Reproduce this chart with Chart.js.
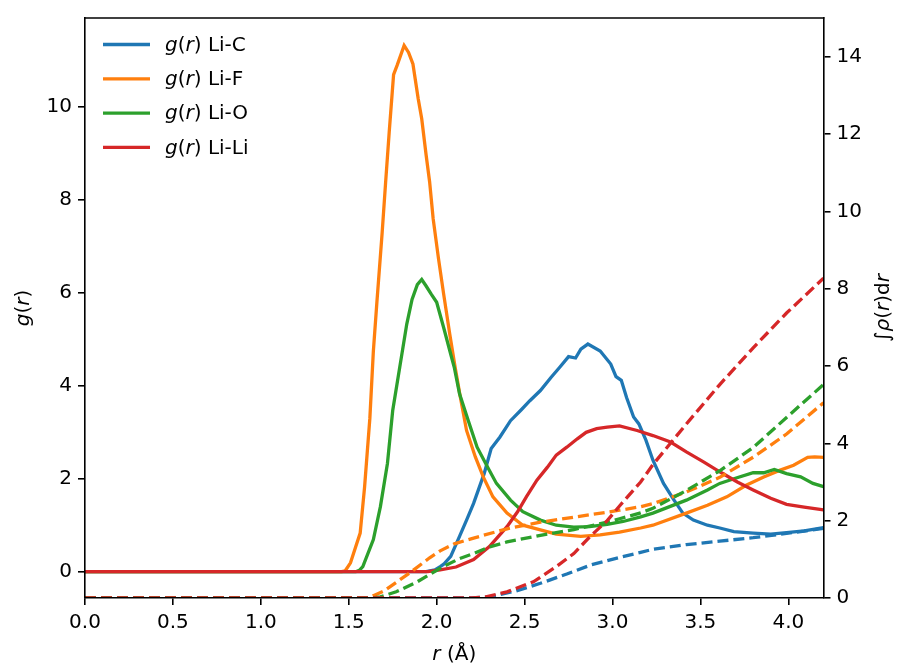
<!DOCTYPE html>
<html>
<head>
<meta charset="utf-8">
<script src="https://cdn.jsdelivr.net/npm/chart.js@4.4.1/dist/chart.umd.min.js"></script>
<style>
  body { margin: 0; background: #fff; }
</style>
</head>
<body>
<canvas id="rdfChart" width="906" height="669"></canvas>
<script>
// [r, g(r)]
const liC_g = [[0,0],[1.94,0],[1.99,0.04],[2.02,0.11],[2.04,0.16],[2.08,0.33],[2.13,0.76],[2.17,1.11],[2.21,1.47],[2.27,2.11],[2.31,2.65],[2.36,2.9],[2.42,3.25],[2.48,3.48],[2.53,3.68],[2.59,3.9],[2.65,4.18],[2.70,4.4],[2.75,4.63],[2.79,4.6],[2.82,4.79],[2.86,4.9],[2.93,4.75],[2.99,4.47],[3.02,4.2],[3.05,4.12],[3.08,3.75],[3.12,3.33],[3.15,3.18],[3.19,2.83],[3.23,2.4],[3.29,1.9],[3.35,1.54],[3.40,1.26],[3.46,1.11],[3.54,1.0],[3.61,0.94],[3.69,0.86],[3.80,0.83],[3.90,0.81],[3.99,0.84],[4.09,0.88],[4.2,0.95]];
const liF_g = [[0,0],[1.46,0],[1.48,0.02],[1.51,0.19],[1.54,0.54],[1.565,0.83],[1.59,1.82],[1.62,3.3],[1.64,4.75],[1.66,5.8],[1.69,7.3],[1.71,8.4],[1.73,9.46],[1.755,10.7],[1.775,10.9],[1.815,11.33],[1.84,11.18],[1.865,10.93],[1.895,10.18],[1.915,9.75],[1.94,8.97],[1.96,8.39],[1.98,7.6],[2.01,6.75],[2.04,5.97],[2.075,5.1],[2.105,4.4],[2.135,3.75],[2.17,3.04],[2.22,2.47],[2.265,2.04],[2.32,1.61],[2.40,1.26],[2.49,1.0],[2.59,0.9],[2.68,0.81],[2.82,0.76],[2.93,0.79],[3.04,0.85],[3.16,0.94],[3.23,1.0],[3.42,1.26],[3.54,1.43],[3.65,1.61],[3.76,1.86],[3.86,2.04],[3.95,2.18],[4.03,2.29],[4.11,2.46],[4.15,2.47],[4.2,2.46]];
const liO_g = [[0,0],[1.54,0],[1.56,0.03],[1.58,0.11],[1.64,0.69],[1.68,1.4],[1.72,2.33],[1.75,3.47],[1.79,4.4],[1.83,5.33],[1.86,5.86],[1.89,6.18],[1.915,6.29],[1.94,6.15],[1.97,5.97],[2.0,5.8],[2.04,5.25],[2.08,4.68],[2.10,4.4],[2.13,3.83],[2.18,3.25],[2.23,2.68],[2.29,2.25],[2.34,1.9],[2.42,1.54],[2.49,1.29],[2.59,1.11],[2.68,1.0],[2.78,0.96],[2.87,0.97],[2.97,1.02],[3.06,1.08],[3.16,1.18],[3.23,1.26],[3.42,1.54],[3.54,1.76],[3.61,1.9],[3.69,2.0],[3.80,2.13],[3.86,2.13],[3.92,2.2],[3.99,2.11],[4.07,2.04],[4.14,1.9],[4.2,1.83]];
const liLi_g = [[0,0],[1.95,0],[2.02,0.04],[2.11,0.1],[2.21,0.26],[2.30,0.54],[2.40,0.97],[2.46,1.29],[2.51,1.61],[2.57,1.97],[2.63,2.25],[2.68,2.51],[2.74,2.68],[2.80,2.86],[2.85,3.0],[2.91,3.08],[2.97,3.11],[3.04,3.14],[3.14,3.04],[3.23,2.93],[3.33,2.79],[3.42,2.58],[3.52,2.36],[3.61,2.15],[3.71,1.93],[3.80,1.76],[3.90,1.58],[3.99,1.45],[4.09,1.39],[4.2,1.33]];

// [r, running integral] (right axis)
const liC_n = [[0,0],[2.2,0],[2.30,0.03],[2.45,0.18],[2.59,0.38],[2.74,0.62],[2.88,0.86],[3.04,1.05],[3.16,1.18],[3.23,1.26],[3.42,1.38],[3.61,1.47],[3.80,1.56],[3.99,1.67],[4.2,1.8]];
const liF_n = [[0,0],[1.60,0],[1.64,0.06],[1.70,0.18],[1.75,0.34],[1.85,0.66],[1.96,1.04],[2.02,1.22],[2.10,1.40],[2.21,1.55],[2.40,1.79],[2.59,1.96],[2.78,2.09],[2.97,2.22],[3.04,2.27],[3.16,2.36],[3.23,2.44],[3.42,2.74],[3.61,3.12],[3.80,3.64],[3.99,4.24],[4.2,5.05]];
const liO_n = [[0,0],[1.64,0],[1.68,0.03],[1.77,0.16],[1.89,0.42],[2.02,0.77],[2.13,1.02],[2.21,1.15],[2.30,1.32],[2.40,1.45],[2.59,1.62],[2.78,1.77],[2.97,1.96],[3.04,2.05],[3.16,2.2],[3.23,2.32],[3.42,2.78],[3.61,3.29],[3.80,3.89],[3.99,4.67],[4.2,5.52]];
const liLi_n = [[0,0],[2.2,0],[2.28,0.03],[2.40,0.16],[2.55,0.42],[2.68,0.81],[2.78,1.15],[2.87,1.58],[2.97,2.0],[3.04,2.38],[3.16,3.0],[3.23,3.45],[3.42,4.5],[3.61,5.52],[3.80,6.47],[3.99,7.37],[4.2,8.27]];

const pairNames = ['Li-C', 'Li-F', 'Li-O', 'Li-Li'];
const colors = ['#1f77b4', '#ff7f0e', '#2ca02c', '#d62728'];
const xTicks = [0, 0.5, 1.0, 1.5, 2.0, 2.5, 3.0, 3.5, 4.0];
const yTicks = [0, 2, 4, 6, 8, 10];
const y2Ticks = [0, 2, 4, 6, 8, 10, 12, 14];

const FONT = 'DejaVu Sans';
const tickFont = { family: FONT, size: 20 };
const LW = 3.3;

function toPts(arr) {
    return arr.map(p => ({ x: p[0], y: p[1] }));
}

const gSets = [liC_g, liF_g, liO_g, liLi_g];
const nSets = [liC_n, liF_n, liO_n, liLi_n];
const datasets = [];
gSets.forEach((d, i) => {
    datasets.push({
        label: 'g(r) ' + pairNames[i], data: toPts(d), yAxisID: 'y',
        borderColor: colors[i], borderWidth: LW, pointRadius: 0, tension: 0,
        fill: false, clip: 0, order: 8 - i
    });
});
nSets.forEach((d, i) => {
    datasets.push({
        label: 'int ' + pairNames[i], data: toPts(d), yAxisID: 'y2',
        borderColor: colors[i], borderWidth: LW, borderDash: [11, 5], pointRadius: 0,
        tension: 0, fill: false, clip: 0, order: 4 - i
    });
});

function axisOpts(extra) {
    return Object.assign({
        type: 'linear',
        grid: { display: true, drawOnChartArea: false, drawTicks: true, tickLength: 7, color: '#000', lineWidth: 1.6 },
        border: { display: true, color: '#000', width: 1.6, z: 1 },
        ticks: { font: tickFont, color: '#000', padding: 6, autoSkip: false, maxRotation: 0 }
    }, extra);
}

// text with italic pieces, like matplotlib mathtext
function drawRich(ctx, parts, x, y, align, size) {
    let widths = parts.map(p => {
        ctx.font = (p[1] ? 'italic ' : '') + size + 'px "' + FONT + '"';
        return ctx.measureText(p[0]).width;
    });
    let total = widths.reduce((a, b) => a + b, 0);
    let cx = align === 'center' ? x - total / 2 : x;
    parts.forEach((p, i) => {
        ctx.font = (p[1] ? 'italic ' : '') + size + 'px "' + FONT + '"';
        ctx.fillText(p[0], cx, y);
        cx += widths[i];
    });
}

const decor = {
    id: 'decor',
    afterDraw(chart) {
        const ctx = chart.ctx;
        const a = chart.chartArea;
        ctx.save();
        // top spine
        ctx.strokeStyle = '#000';
        ctx.lineWidth = 1.6;
        ctx.beginPath();
        ctx.moveTo(a.left - 0.8, a.top);
        ctx.lineTo(a.right + 0.8, a.top);
        ctx.stroke();

        ctx.fillStyle = '#000';
        ctx.textBaseline = 'alphabetic';
        // x label
        drawRich(ctx, [['r', true], [' (Å)', false]], (a.left + a.right) / 2, 660, 'center', 20);
        // left y label
        ctx.save();
        ctx.translate(29, (a.top + a.bottom) / 2);
        ctx.rotate(-Math.PI / 2);
        drawRich(ctx, [['g', true], ['(', false], ['r', true], [')', false]], 0, 0, 'center', 20);
        ctx.restore();
        // right y label
        ctx.save();
        ctx.translate(889, (a.top + a.bottom) / 2);
        ctx.rotate(-Math.PI / 2);
        drawRich(ctx, [['∫', false], ['ρ', true], ['(', false], ['r', true], [')d', false], ['r', true]], 0, 0, 'center', 20);
        ctx.restore();

        // legend
        ctx.textBaseline = 'middle';
        pairNames.forEach((name, i) => {
            const ly = 44.5 + i * 34.3;
            ctx.strokeStyle = colors[i];
            ctx.lineWidth = LW;
            ctx.beginPath();
            ctx.moveTo(103, ly);
            ctx.lineTo(150, ly);
            ctx.stroke();
            drawRich(ctx, [['g', true], ['(', false], ['r', true], [') ' + name, false]], 165, ly + 1, 'left', 20);
        });
        ctx.restore();
    }
};

new Chart(document.getElementById('rdfChart').getContext('2d'), {
    type: 'line',
    data: { datasets: datasets },
    options: {
        responsive: false,
        animation: false,
        devicePixelRatio: 1,
        layout: { padding: { top: 15, left: 0, right: 0, bottom: 0 } },
        plugins: { legend: { display: false }, tooltip: { enabled: false } },
        scales: {
            x: axisOpts({
                min: 0, max: 4.2,
                afterBuildTicks: s => { s.ticks = xTicks.map(v => ({ value: v })); },
                afterFit: s => { s.height = 71; },
                ticks: { font: tickFont, color: '#000', padding: 6, autoSkip: false, maxRotation: 0, callback: v => v.toFixed(1) }
            }),
            y: axisOpts({
                position: 'left', min: -0.567, max: 11.92,
                afterBuildTicks: s => { s.ticks = yTicks.map(v => ({ value: v })); },
                afterFit: s => { s.width = 85; }
            }),
            y2: axisOpts({
                position: 'right', min: 0, max: 15,
                afterBuildTicks: s => { s.ticks = y2Ticks.map(v => ({ value: v })); },
                afterFit: s => { s.width = 82.5; }
            })
        }
    },
    plugins: [decor]
});
</script>
</body>
</html>
